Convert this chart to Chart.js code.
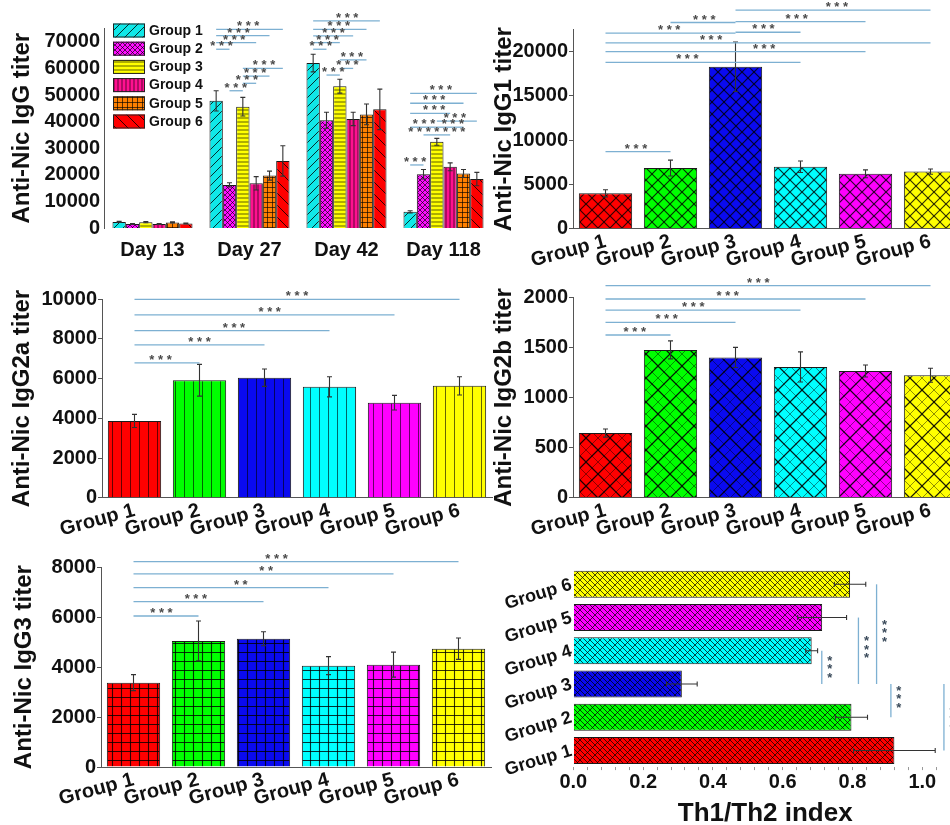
<!DOCTYPE html>
<html><head><meta charset="utf-8">
<script src="https://cdn.jsdelivr.net/npm/chart.js@4"></script>
<style>
html,body{margin:0;padding:0;background:#fff;overflow:hidden;width:950px;height:825px;position:relative}
canvas{position:absolute}
</style></head><body>
<canvas id="c1" width="495" height="270" style="left:0;top:0"></canvas>
<canvas id="c2" width="480" height="270" style="left:490px;top:0"></canvas>
<canvas id="c3" width="495" height="270" style="left:0;top:270px"></canvas>
<canvas id="c4" width="480" height="270" style="left:490px;top:270px"></canvas>
<canvas id="c5" width="495" height="285" style="left:0;top:540px"></canvas>
<canvas id="c6" width="480" height="289" style="left:490px;top:540px"></canvas>
<script>
// ---------------- DATA ----------------
const DAYS = ['Day 13', 'Day 27', 'Day 42', 'Day 118'];
const GROUPS = ['Group 1', 'Group 2', 'Group 3', 'Group 4', 'Group 5', 'Group 6'];

// Anti-Nic IgG titer per group across days
const IGG_G1 = [2300, 47800, 62000, 6100];
const IGG_G2 = [1500, 16200, 40500, 20200];
const IGG_G3 = [2200, 45600, 53300, 32400];
const IGG_G4 = [1500, 16800, 41000, 23000];
const IGG_G5 = [2100, 19700, 42700, 20500];
const IGG_G6 = [1700, 25200, 44600, 18400];
const IGG_ERR_G1 = [200, 3800, 3300, 400];
const IGG_ERR_G2 = [150, 800, 3000, 1800];
const IGG_ERR_G3 = [250, 3500, 2600, 1300];
const IGG_ERR_G4 = [200, 2500, 2500, 1500];
const IGG_ERR_G5 = [200, 1700, 3900, 1500];
const IGG_ERR_G6 = [150, 5700, 7600, 2500];

const IGG1 = [4000, 6850, 18300, 7000, 6200, 6450];
const IGG1_ERR = [400, 900, 2800, 650, 450, 300];
const IGG2A = [3870, 5920, 6050, 5590, 4790, 5640];
const IGG2A_ERR = [330, 800, 440, 510, 370, 460];
const IGG2B = [645, 1475, 1400, 1305, 1265, 1222];
const IGG2B_ERR = [40, 90, 100, 150, 60, 70];
const IGG3 = [3380, 5050, 5140, 4060, 4100, 4740];
const IGG3_ERR = [320, 800, 280, 360, 500, 430];
const TH_INDEX = [0.92, 0.797, 0.311, 0.683, 0.713, 0.793];
const TH_ERR = [0.117, 0.046, 0.044, 0.017, 0.07, 0.045];

// significance: [day, groupA, groupB, level, label, labelFraction]
const SIG_IGG = [
  [1,1,6,74700,'***',0.48],[1,1,5,72300,'***',0.42],[1,1,4,69700,'***',0.45],[1,1,2,67200,'***',0.4],
  [1,3,6,60000,'***',0.53],[1,3,5,57100,'***',0.46],[1,3,4,54400,'***',0.3],[1,2,3,51600,'***',0.47],
  [2,1,6,77900,'***',0.51],[2,1,5,74700,'***',0.48],[2,1,4,72200,'***',0.51],[2,1,3,69700,'***',0.54],[2,1,2,67200,'***',0.57],
  [2,3,5,63200,'***',0.45],[2,3,4,60000,'***',0.57],[2,2,3,57500,'***',0.51],
  [3,1,6,50600,'***',0.46],[3,1,5,46900,'***',0.45],[3,1,4,43100,'***',0.6],[3,3,6,40200,'***',0.45],
  [3,1,3,37900,'***',0.52],[3,3,5,37900,'***',0.6],[3,2,4,35000,'*******',0.5],[3,1,2,23700,'***',0.37]
];
// significance: [groupA, groupB, level, label, labelFraction]
const SIG_IGG1 = [[3,6,24700,'***',0.52],[2,3,23300,'***',0.52],[3,5,23400,'***',0.47],[3,4,22200,'***',0.43],
  [1,3,22100,'***',0.49],[1,6,21000,'***',0.325],[1,5,20000,'***',0.61],[1,4,18800,'***',0.42],[1,2,8700,'***',0.47]];
const SIG_IGG2A = [[1,2,6800,'***',0.4],[1,3,7700,'***',0.5],[1,4,8420,'***',0.51],[1,5,9210,'***',0.52],[1,6,10000,'***',0.5]];
const SIG_IGG2B = [[1,2,1624,'***',0.45],[1,3,1750,'***',0.47],[1,4,1873,'***',0.45],[1,5,1983,'***',0.47],[1,6,2116,'***',0.47]];
const SIG_IGG3 = [[1,2,6050,'***',0.43],[1,3,6623,'***',0.48],[1,4,7185,'**',0.55],[1,5,7733,'**',0.51],[1,6,8226,'***',0.44]];
const SIG_TH = [[4,3,0.712,'***',0.47],[5,3,0.817,'***',0.44],[6,3,0.869,'***',0.46],[3,2,0.910,'***',0.37],[3,1,1.062,'***',0.5]];

// ---------------- STYLE HELPERS ----------------
Chart.defaults.font.family = "'Liberation Sans', Arial, sans-serif";
Chart.defaults.color = '#111';
const BOLD = s => ({size: s, weight: 'bold'});
const isMajor = (v, major) => Math.abs(v / major - Math.round(v / major)) < 1e-6;

function pat(color, s, layers) {
  const c = document.createElement('canvas'); c.width = s; c.height = s;
  const g = c.getContext('2d');
  g.fillStyle = color; g.fillRect(0, 0, s, s);
  layers.forEach(L => {
    g.strokeStyle = L.c || 'rgba(0,0,0,0.8)'; g.lineWidth = L.w || 1; g.beginPath();
    const d = L.d;
    for (let k = -2 * s; k <= 3 * s; k += d) {
      const t = k + (L.o || 0);
      if (L.t === 'h') { g.moveTo(0, t); g.lineTo(s, t); }
      if (L.t === 'v') { g.moveTo(t, 0); g.lineTo(t, s); }
      if (L.t === 'f') { g.moveTo(t, 0); g.lineTo(t - s, s); }
      if (L.t === 'b') { g.moveTo(t, 0); g.lineTo(t + s, s); }
    }
    g.stroke();
  });
  return g.createPattern(c, 'repeat');
}
const C6 = ['#ff0000', '#00ff00', '#0a0af0', '#00ffff', '#ff00ff', '#ffff00'];
const IGG_FILLS = [
  pat('#10e8e8', 9, [{t:'f', d:9, w:1}]),
  pat('#ff10ff', 5, [{t:'f', d:5, w:0.8}, {t:'b', d:5, w:0.8}]),
  pat('#ffff00', 4, [{t:'h', d:4, o:2, w:0.8}]),
  pat('#ff1090', 4, [{t:'v', d:4, o:2, w:0.8}]),
  pat('#ff8000', 5, [{t:'h', d:5, o:2.5, w:0.8}, {t:'v', d:5, o:2.5, w:0.8}]),
  pat('#ff0000', 12, [{t:'b', d:12, w:1}])
];
const fillsCross = C6.map(c => pat(c, 12, [{t:'f', d:12, w:1.2}, {t:'b', d:12, w:1.2}]));
const fillsVert = C6.map(c => pat(c, 9, [{t:'v', d:9, o:4.5, w:1, c:'rgba(0,0,0,0.6)'}]));
const fillsCross2 = C6.map(c => pat(c, 24, [{t:'f', d:12, w:0.8, c:'rgba(0,0,0,0.55)'}, {t:'b', d:12, w:0.8, c:'rgba(0,0,0,0.55)'}, {t:'f', d:24, w:1.3}, {t:'b', d:24, w:1.3}]));
const fillsGrid = C6.map(c => pat(c, 9, [{t:'h', d:9, o:4.5, w:1.1}, {t:'v', d:9, o:4.5, w:1.1}]));
const fillsTh = C6.map(c => pat(c, 10, [{t:'f', d:10, w:0.9}, {t:'b', d:5, w:0.9}]));

// ---------------- PLUGINS ----------------
const errorPlugin = {
  id: 'errorBars',
  afterDatasetsDraw(chart) {
    const ctx = chart.ctx; const horiz = chart.options.indexAxis === 'y';
    const vs = horiz ? chart.scales.x : chart.scales.y;
    ctx.save(); ctx.strokeStyle = '#333'; ctx.lineWidth = 1.1;
    chart.data.datasets.forEach((ds, di) => {
      if (!ds.errors) return;
      chart.getDatasetMeta(di).data.forEach((bar, i) => {
        const v = ds.data[i], e = ds.errors[i];
        const a = vs.getPixelForValue(v - e), b = vs.getPixelForValue(v + e), cap = 2.5;
        ctx.beginPath();
        if (horiz) {
          ctx.moveTo(a, bar.y); ctx.lineTo(b, bar.y);
          ctx.moveTo(b, bar.y - cap); ctx.lineTo(b, bar.y + cap);
          ctx.moveTo(a, bar.y - cap); ctx.lineTo(a, bar.y + cap);
        } else {
          ctx.moveTo(bar.x, a); ctx.lineTo(bar.x, b);
          ctx.moveTo(bar.x - cap, b); ctx.lineTo(bar.x + cap, b);
          ctx.moveTo(bar.x - cap, a); ctx.lineTo(bar.x + cap, a);
        }
        ctx.stroke();
      });
    });
    ctx.restore();
  }
};

const sigPlugin = {
  id: 'sig',
  afterDatasetsDraw(chart, args, o) {
    if (!o || !o.list) return;
    const ctx = chart.ctx; ctx.save();
    ctx.font = "bold 13px 'Liberation Sans', Arial, sans-serif";
    ctx.textAlign = 'center'; ctx.textBaseline = 'alphabetic';
    o.list.forEach(it => {
      if (o.mode === 'h') {
        const [a, b, v, lab, f] = it; const m = chart.getDatasetMeta(0);
        const y1 = m.data[a - 1].y, y2 = m.data[b - 1].y, x = chart.scales.x.getPixelForValue(v);
        ctx.strokeStyle = '#7db0d2'; ctx.lineWidth = 1.3;
        ctx.beginPath(); ctx.moveTo(x, y1); ctx.lineTo(x, y2); ctx.stroke();
        const yc = y1 + f * (y2 - y1); ctx.fillStyle = '#3a4a5a';
        for (let k = 0; k < lab.length; k++) ctx.fillText('*', x + 8, yc + 7 + (k - (lab.length - 1) / 2) * 8.5);
        return;
      }
      let x1, x2, v, lab, f;
      if (o.mode === 'grouped') {
        const [cat, a, b] = it; v = it[3]; lab = it[4]; f = it[5];
        x1 = chart.getDatasetMeta(a - 1).data[cat].x; x2 = chart.getDatasetMeta(b - 1).data[cat].x;
      } else {
        const [a, b] = it; v = it[2]; lab = it[3]; f = it[4];
        const m = chart.getDatasetMeta(0); x1 = m.data[a - 1].x; x2 = m.data[b - 1].x;
      }
      const y = chart.scales.y.getPixelForValue(v);
      ctx.strokeStyle = '#7db0d2'; ctx.lineWidth = 1.3;
      ctx.beginPath(); ctx.moveTo(x1, y); ctx.lineTo(x2, y); ctx.stroke();
      ctx.fillStyle = '#4a4a4a';
      ctx.fillText(lab.split('').join(' '), x1 + f * (x2 - x1), y + 1);
    });
    ctx.restore();
  }
};

const boxLegend = {
  id: 'boxLegend',
  afterDraw(chart, args, o) {
    if (!o || !o.show) return;
    const ctx = chart.ctx; ctx.save();
    ctx.font = "bold 14px 'Liberation Sans', Arial, sans-serif";
    ctx.textAlign = 'left'; ctx.textBaseline = 'middle';
    chart.data.datasets.forEach((ds, i) => {
      const y = o.y + i * o.dy;
      ctx.fillStyle = ds.backgroundColor; ctx.fillRect(o.x, y, 32, 14);
      ctx.strokeStyle = '#222'; ctx.lineWidth = 1; ctx.strokeRect(o.x + 0.5, y + 0.5, 31, 13);
      ctx.fillStyle = '#111'; ctx.fillText(ds.label, o.x + 36, y + 7.5);
    });
    ctx.restore();
  }
};

// ---------------- CHART 1: IgG by day ----------------
const IGG_VALS = [IGG_G1, IGG_G2, IGG_G3, IGG_G4, IGG_G5, IGG_G6];
const IGG_ERRS = [IGG_ERR_G1, IGG_ERR_G2, IGG_ERR_G3, IGG_ERR_G4, IGG_ERR_G5, IGG_ERR_G6];
new Chart(document.getElementById('c1'), {
  type: 'bar',
  data: {
    labels: DAYS,
    datasets: GROUPS.map((g, i) => ({
      label: g, data: IGG_VALS[i], errors: IGG_ERRS[i], backgroundColor: IGG_FILLS[i],
      borderColor: '#1a1a1a', borderWidth: 1, barPercentage: 1, categoryPercentage: 0.825
    }))
  },
  options: {
    responsive: false, animation: false, events: [],
    layout: {padding: {left: 0, top: 28.5, right: 495 - 492, bottom: 0}},
    plugins: {legend: {display: false}, tooltip: {enabled: false},
      sig: {mode: 'grouped', list: SIG_IGG}, boxLegend: {show: true, x: 113, y: 23.5, dy: 18.2}},
    scales: {
      x: {grid: {display: false, drawTicks: false}, border: {display: false},
        ticks: {font: BOLD(20), color: '#111', padding: 10, maxRotation: 0, minRotation: 0},
        afterFit: s => { s.height = 270 - 228; }},
      y: {min: 0, max: 75000, border: {display: true, color: '#555'},
        grid: {display: false, drawTicks: false},
        ticks: {stepSize: 5000, autoSkip: false, font: BOLD(20), color: '#111', padding: 4,
          callback: v => isMajor(v, 10000) ? String(v) : ''},
        title: {display: true, text: 'Anti-Nic IgG titer', font: BOLD(24), color: '#111', padding: {top: 8, bottom: 0}},
        afterFit: s => { s.width = 104; }}
    }
  },
  plugins: [errorPlugin, sigPlugin, boxLegend]
});

// ---------------- CHARTS 2-5 ----------------
function groupChart(id, W, H, g, values, errors, fills, yMax, yMajor, yMinor, title, sigList) {
  return new Chart(document.getElementById(id), {
    type: 'bar',
    data: {labels: GROUPS, datasets: [{data: values, errors: errors, backgroundColor: fills,
      borderColor: '#1a1a1a', borderWidth: 1, barPercentage: 0.82, categoryPercentage: 1}]},
    options: {
      responsive: false, animation: false, events: [],
      layout: {padding: {left: 0, top: g.top, right: W - g.right, bottom: 0}},
      plugins: {legend: {display: false}, tooltip: {enabled: false}, sig: {mode: 'v', list: sigList}},
      scales: {
        x: {grid: {display: false, drawTicks: false}, border: {display: true, color: '#555'},
          ticks: {font: BOLD(20), color: '#111', minRotation: 15, maxRotation: 15, padding: 1, autoSkip: false},
          afterFit: s => { s.height = H - g.bottom; }},
        y: {min: 0, max: yMax, border: {display: true, color: '#555'},
          grid: {drawOnChartArea: false, drawTicks: true, tickLength: 4,
            color: c => (c.tick && isMajor(c.tick.value, yMajor)) ? '#555' : 'rgba(0,0,0,0)'},
          ticks: {stepSize: yMinor, autoSkip: false, font: BOLD(20), color: '#111', padding: 1,
            callback: v => isMajor(v, yMajor) ? String(v) : ''},
          title: {display: true, text: title, font: BOLD(24), color: '#111', padding: {top: g.tp, bottom: 0}},
          afterFit: s => { s.width = g.left; }}
      }
    },
    plugins: [errorPlugin, sigPlugin]
  });
}
groupChart('c2', 480, 270, {left: 83, right: 473, top: 29.6, bottom: 228.7, tp: 0},
  IGG1, IGG1_ERR, fillsCross, 22500, 5000, 2500, 'Anti-Nic IgG1 titer', SIG_IGG1);
groupChart('c3', 495, 270, {left: 102, right: 492, top: 29.3, bottom: 227.7, tp: 8},
  IGG2A, IGG2A_ERR, fillsVert, 10000, 2000, 2000, 'Anti-Nic IgG2a titer', SIG_IGG2A);
groupChart('c4', 480, 270, {left: 83, right: 473, top: 27.3, bottom: 227.7, tp: 0},
  IGG2B, IGG2B_ERR, fillsCross2, 2000, 500, 500, 'Anti-Nic IgG2b titer', SIG_IGG2B);
groupChart('c5', 495, 285, {left: 101, right: 491, top: 27.3, bottom: 227, tp: 9.5},
  IGG3, IGG3_ERR, fillsGrid, 8000, 2000, 2000, 'Anti-Nic IgG3 titer', SIG_IGG3);

// ---------------- CHART 6: Th1/Th2 index ----------------
new Chart(document.getElementById('c6'), {
  type: 'bar',
  data: {labels: GROUPS, datasets: [{data: TH_INDEX, errors: TH_ERR, backgroundColor: fillsTh,
    borderColor: '#1a1a1a', borderWidth: 1, barPercentage: 0.81, categoryPercentage: 1}]},
  options: {
    indexAxis: 'y', responsive: false, animation: false, events: [],
    layout: {padding: {left: 0, top: 27.7, right: 480 - 467.2, bottom: 0}},
    plugins: {legend: {display: false}, tooltip: {enabled: false}, sig: {mode: 'h', list: SIG_TH}},
    scales: {
      y: {reverse: true, grid: {display: false, drawTicks: false}, border: {display: false},
        ticks: {font: BOLD(18), color: '#111', minRotation: 17, maxRotation: 17, padding: 2, autoSkip: false},
        afterFit: s => { s.width = 83.3; }},
      x: {min: 0, max: 1.1, border: {display: false},
        grid: {display: true, drawOnChartArea: false, drawTicks: true, tickLength: 3, color: '#999'},
        ticks: {stepSize: 0.04, autoSkip: false, maxRotation: 0, font: BOLD(20), color: '#111', padding: 0,
          callback: v => isMajor(v, 0.2) ? v.toFixed(1) : ''},
        title: {display: true, text: 'Th1/Th2 index', font: BOLD(26), color: '#111', padding: {top: 0, bottom: 0}},
        afterFit: s => { s.height = 289 - 227.1; }}
    }
  },
  plugins: [errorPlugin, sigPlugin]
});
</script>
</body></html>
